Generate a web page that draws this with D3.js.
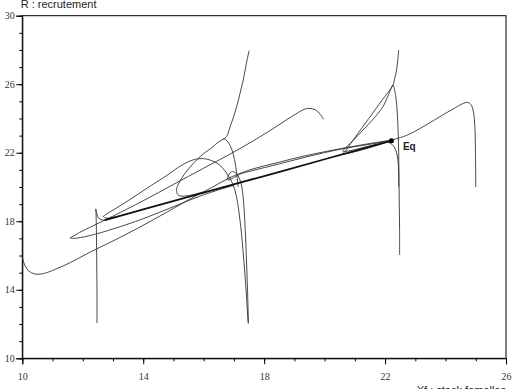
<!DOCTYPE html>
<html>
<head>
<meta charset="utf-8">
<script src="https://cdn.jsdelivr.net/npm/d3@7"></script>
<style>
  body { margin: 0; background: #fff; }
  svg { display: block; }
  .tick text { font-family: 'Liberation Serif', 'DejaVu Serif', serif; }
</style>
</head>
<body>
<div id="visualization"></div>
<script>

// axis ticks
let xMajor = [10, 14, 18, 22, 26];
let yMajor = [10, 14, 18, 22, 26, 30];
let xMinor = d3.range(10, 27, 1);
let yMinor = d3.range(10, 31, 1);

// equilibrium point
let eqPoint = [22.21, 22.70];

// trajectories [Xf, R]
let trajFrom10 = [[10.0, 15.9], [10.08, 15.45], [10.2, 15.12], [10.42, 14.92], [10.7, 14.95], [11.1, 15.2], [11.6, 15.6],
  [12.3, 16.25], [13.0, 16.85], [13.89, 17.66], [14.8, 18.55], [15.6, 19.35], [16.3, 20.0], [16.87, 20.55], [17.53, 21.0],
  [18.5, 21.45], [19.3, 21.8], [20.18, 22.12], [21.2, 22.45], [22.38, 22.82], [22.82, 23.1], [23.48, 23.75], [23.9, 24.2],
  [24.25, 24.55], [24.55, 24.85], [24.74, 24.94], [24.86, 24.75], [24.93, 24.3], [24.97, 23.5], [24.99, 22.0], [25.0, 20.0]];

let trajFrom12 = [[12.47, 12.06], [12.47, 14.0], [12.46, 16.0], [12.45, 17.6], [12.44, 18.4], [12.43, 18.72],
  [12.46, 18.5], [12.5, 18.25], [12.6, 18.1], [12.73, 18.07], [13.2, 18.3]];

let trajFrom17Low = [[17.47, 12.04], [17.42, 13.5], [17.36, 15.0], [17.3, 16.3], [17.25, 17.3], [17.2, 18.07], [17.12, 19.1],
  [17.02, 19.9], [16.87, 20.5], [16.7, 20.95], [16.5, 21.32], [16.25, 21.55], [15.95, 21.66], [15.65, 21.58], [15.3, 21.3],
  [14.8, 20.7], [14.1, 19.9], [13.5, 19.2], [13.0, 18.65], [12.75, 18.38], [12.68, 18.27], [12.8, 18.18], [13.2, 18.3]];

let trajFrom17Mid = [[17.48, 12.04], [17.45, 14.0], [17.41, 16.0], [17.36, 18.0], [17.3, 19.5], [17.22, 20.3], [17.1, 20.75],
  [16.95, 20.9], [16.82, 20.7], [16.8, 20.42], [16.95, 20.5], [17.2, 20.75], [17.6, 20.95], [18.5, 21.35], [19.5, 21.8],
  [20.5, 22.2], [21.5, 22.5], [22.21, 22.70]];

let trajFrom20 = [[19.97, 23.95], [19.85, 24.25], [19.72, 24.48], [19.55, 24.58], [19.35, 24.55], [18.9, 24.1], [18.2, 23.3],
  [17.53, 22.58], [16.8, 21.85], [16.0, 21.1], [15.0, 20.15], [14.0, 19.2], [13.0, 18.3], [12.3, 17.7], [11.9, 17.35],
  [11.68, 17.12], [11.58, 17.03], [11.7, 17.0], [12.2, 17.15], [13.0, 17.55], [14.0, 18.15], [15.0, 18.85], [16.0, 19.55],
  [17.0, 20.1]];

let trajFrom17Top = [[17.5, 27.96], [17.4, 27.1], [17.31, 26.25], [17.2, 25.45], [17.09, 24.69], [16.98, 24.05], [16.87, 23.5],
  [16.76, 22.95], [16.64, 22.78], [16.45, 22.58], [16.31, 22.35], [16.0, 21.95], [15.77, 21.58], [15.45, 20.95], [15.2, 20.3],
  [15.1, 19.8], [15.18, 19.5], [15.5, 19.5], [16.0, 19.72]];

let trajFrom17Right = [[17.14, 20.02], [17.06, 21.2], [16.97, 21.97], [16.85, 22.5], [16.72, 22.78], [16.64, 22.8]];

let trajFrom22Top = [[22.45, 28.0], [22.42, 27.4], [22.38, 26.83], [22.32, 26.35], [22.26, 25.95], [21.9, 25.07], [21.46, 24.0],
  [21.0, 22.88], [20.67, 22.06], [20.6, 21.93], [20.8, 21.98], [21.3, 22.2], [21.9, 22.52], [22.21, 22.70]];

let trajFrom22Low = [[22.48, 16.03], [22.48, 17.5], [22.47, 19.0], [22.46, 20.5], [22.45, 22.0], [22.43, 23.3], [22.4, 24.4],
  [22.36, 25.2], [22.31, 25.7], [22.26, 25.95], [22.2, 25.75], [22.08, 25.25], [21.93, 24.69], [21.6, 23.95], [21.27, 23.33],
  [20.95, 22.72], [20.7, 22.3], [20.6, 22.1], [20.75, 22.09], [21.3, 22.32], [21.9, 22.58], [22.21, 22.70]];

let trajFrom22Mid = [[22.45, 20.0], [22.45, 20.8], [22.43, 21.5], [22.38, 22.0], [22.3, 22.35], [22.18, 22.55], [22.08, 22.62],
  [22.21, 22.70]];

// slow line where trajectories pile up on their way to Eq
let convergence = [[12.73, 18.07], [14.0, 18.69], [16.0, 19.67], [18.0, 20.64], [20.0, 21.62], [22.21, 22.70]];

let trajectories = [trajFrom10, trajFrom12, trajFrom17Low, trajFrom17Mid, trajFrom20, trajFrom17Top,
  trajFrom17Right, trajFrom22Top, trajFrom22Low, trajFrom22Mid];

main();

function main() {

  var width = 517, height = 389;

  var svg = d3.select("#visualization").append("svg")
    .attr("width", width)
    .attr("height", height);

  // plot frame in pixels
  var left = 22.3, right = 506, top = 15.7, bottom = 358.3;

  var x = d3.scaleLinear().domain([10, 26]).range([left, right]);
  var y = d3.scaleLinear().domain([10, 30]).range([bottom, top]);

  // frame
  svg.append("rect")
    .attr("x", left).attr("y", top)
    .attr("width", right - left).attr("height", bottom - top)
    .attr("fill", "none").attr("stroke", "#000").attr("stroke-width", 1);

  // minor ticks
  svg.append("g")
    .attr("transform", "translate(0," + bottom + ")")
    .call(d3.axisBottom(x).tickValues(xMinor).tickSize(3).tickFormat(""))
    .call(g => g.select(".domain").remove());
  svg.append("g")
    .attr("transform", "translate(" + left + ",0)")
    .call(d3.axisLeft(y).tickValues(yMinor).tickSize(3).tickFormat(""))
    .call(g => g.select(".domain").remove());

  // major ticks with labels
  var xAxis = svg.append("g")
    .attr("transform", "translate(0," + bottom + ")")
    .call(d3.axisBottom(x).tickValues(xMajor).tickSize(6).tickPadding(9).tickFormat(d3.format("d")));
  var yAxis = svg.append("g")
    .attr("transform", "translate(" + left + ",0)")
    .call(d3.axisLeft(y).tickValues(yMajor).tickSize(6).tickPadding(1.5).tickFormat(d3.format("d")));

  [xAxis, yAxis].forEach(function (g) {
    g.attr("font-family", "'Liberation Serif', 'DejaVu Serif', serif");
    g.select(".domain").attr("stroke", "#000");
    g.selectAll("text")
      .style("font-family", "'Liberation Serif', 'DejaVu Serif', serif")
      .attr("font-size", 10)
      .attr("fill", "#333");
  });

  svg.append("clipPath").attr("id", "plotClip")
    .append("rect")
    .attr("x", left).attr("y", top)
    .attr("width", right - left).attr("height", bottom - top);

  var line = d3.line()
    .x(function (d) { return x(d[0]); })
    .y(function (d) { return y(d[1]); })
    .curve(d3.curveCatmullRom.alpha(0.5));

  var plot = svg.append("g").attr("clip-path", "url(#plotClip)");

  plot.selectAll(".traj")
    .data(trajectories)
    .enter().append("path")
    .attr("class", "traj")
    .attr("d", line)
    .attr("fill", "none")
    .attr("stroke", "#333")
    .attr("stroke-width", 0.9);

  plot.append("path")
    .attr("d", line(convergence))
    .attr("fill", "none")
    .attr("stroke", "#111")
    .attr("stroke-width", 1.8);

  // equilibrium
  plot.append("circle")
    .attr("cx", x(eqPoint[0]))
    .attr("cy", y(eqPoint[1]))
    .attr("r", 2.5)
    .attr("fill", "#000");

  svg.append("text")
    .attr("x", x(eqPoint[0]) + 11.5)
    .attr("y", y(eqPoint[1]) + 9.6)
    .attr("font-family", "'Liberation Sans', Arial, sans-serif")
    .attr("font-size", 10)
    .attr("font-weight", "bold")
    .attr("fill", "#222")
    .text("Eq");

  // titles (partly outside the picture, as in the original)
  svg.append("text")
    .attr("x", 20.7)
    .attr("y", 7.5)
    .attr("font-family", "'Liberation Sans', Arial, sans-serif")
    .attr("font-size", 11)
    .attr("fill", "#222")
    .text("R : recrutement");

  svg.append("text")
    .attr("x", 416.7)
    .attr("y", 394)
    .attr("font-family", "'Liberation Sans', Arial, sans-serif")
    .attr("font-size", 11)
    .attr("fill", "#222")
    .text("Xf : stock femelles");
};

</script>
</body>
</html>
